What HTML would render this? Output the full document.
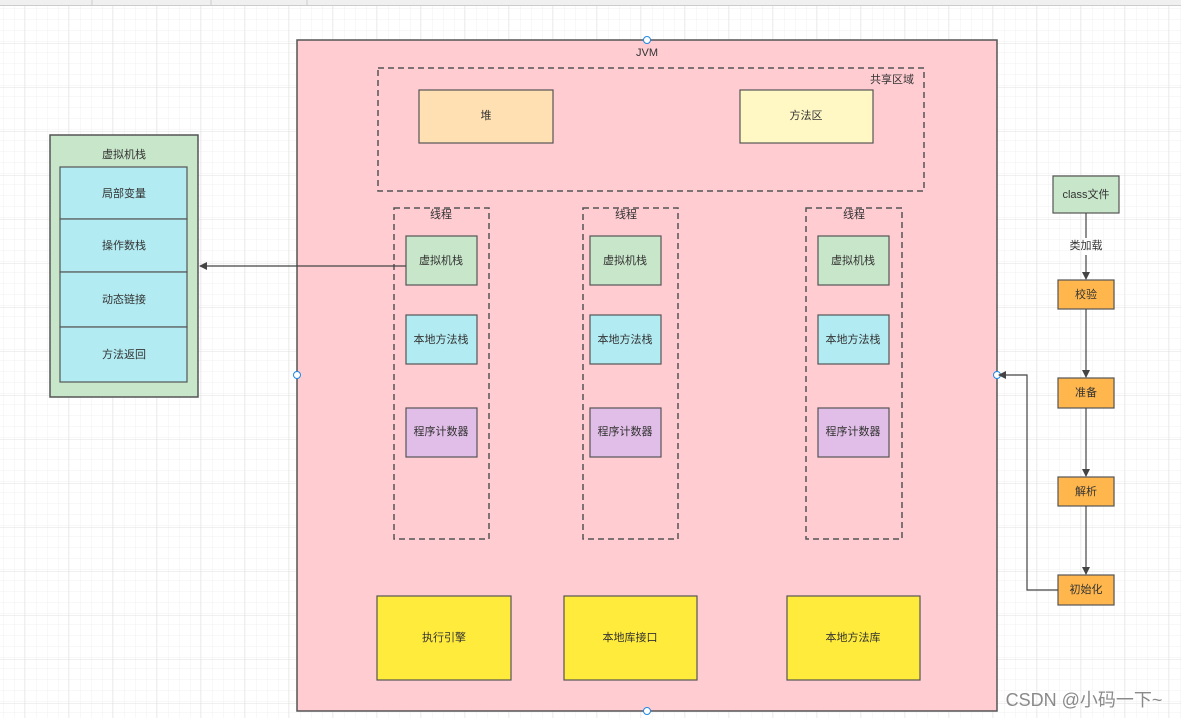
<!DOCTYPE html>
<html><head><meta charset="utf-8"><style>
html,body{margin:0;padding:0;width:1181px;height:718px;overflow:hidden;background:#fff}
svg text{font-family:"Liberation Sans","Noto Sans CJK SC",sans-serif;font-size:11px;fill:#333;text-anchor:middle;dominant-baseline:central}
</style></head><body>
<svg width="1181" height="718" xmlns="http://www.w3.org/2000/svg">
<defs>
<pattern id="minor" width="11" height="11" patternUnits="userSpaceOnUse" x="2" y="-1">
<path d="M11 0V11M0 11H11" fill="none" stroke="#f1f1f1" stroke-width="1"/></pattern>
<pattern id="major" width="44" height="44" patternUnits="userSpaceOnUse" x="24" y="-1">
<rect width="44" height="44" fill="url(#minor)"/>
<path d="M0 0V44M0 0H44" fill="none" stroke="#e2e2e2" stroke-width="1"/></pattern>
<marker id="ar" markerWidth="8" markerHeight="8" refX="7" refY="4" orient="auto" markerUnits="userSpaceOnUse"><path d="M0 0L8 4L0 8Z" fill="#444"/></marker>
</defs>
<rect width="1181" height="718" fill="url(#major)"/>
<rect width="1181" height="5" fill="#f0f0f0"/>
<line x1="0" y1="5.5" x2="1181" y2="5.5" stroke="#ccc"/>
<g stroke="#ccc"><line x1="92" y1="0" x2="92" y2="5"/><line x1="211" y1="0" x2="211" y2="5"/><line x1="307" y1="0" x2="307" y2="5"/></g>
<rect x="297" y="40" width="700" height="671" fill="#ffccd2" stroke="#555" stroke-width="1.5"/>
<text x="647" y="53">JVM</text>
<rect x="378" y="68" width="546" height="123" fill="none" stroke="#555" stroke-width="1.5" stroke-dasharray="6,4"/>
<text x="892" y="80">共享区域</text>
<g stroke="#555" stroke-width="1.2">
<rect x="419" y="90" width="134" height="53" fill="#ffe0b2"/>
<rect x="740" y="90" width="133" height="53" fill="#fff8c4"/>
</g>
<text x="486" y="116">堆</text><text x="806" y="116">方法区</text>
<g fill="none" stroke="#555" stroke-width="1.5" stroke-dasharray="6,4">
<rect x="394" y="208" width="95" height="331"/>
<rect x="583" y="208" width="95" height="331"/>
<rect x="806" y="208" width="96" height="331"/>
</g>
<text x="441" y="215">线程</text><text x="626" y="215">线程</text><text x="854" y="215">线程</text>
<g stroke="#555" stroke-width="1.2">
<rect x="406" y="236" width="71" height="49" fill="#c8e6c9"/>
<rect x="406" y="315" width="71" height="49" fill="#b2ebf2"/>
<rect x="406" y="408" width="71" height="49" fill="#e1bee7"/>
<rect x="590" y="236" width="71" height="49" fill="#c8e6c9"/>
<rect x="590" y="315" width="71" height="49" fill="#b2ebf2"/>
<rect x="590" y="408" width="71" height="49" fill="#e1bee7"/>
<rect x="818" y="236" width="71" height="49" fill="#c8e6c9"/>
<rect x="818" y="315" width="71" height="49" fill="#b2ebf2"/>
<rect x="818" y="408" width="71" height="49" fill="#e1bee7"/>
</g>
<text x="441" y="261">虚拟机栈</text><text x="441" y="340">本地方法栈</text><text x="441" y="432">程序计数器</text>
<text x="625" y="261">虚拟机栈</text><text x="625" y="340">本地方法栈</text><text x="625" y="432">程序计数器</text>
<text x="853" y="261">虚拟机栈</text><text x="853" y="340">本地方法栈</text><text x="853" y="432">程序计数器</text>
<g stroke="#555" stroke-width="1.2" fill="#ffeb3b">
<rect x="377" y="596" width="134" height="84"/>
<rect x="564" y="596" width="133" height="84"/>
<rect x="787" y="596" width="133" height="84"/>
</g>
<text x="444" y="638">执行引擎</text><text x="630" y="638">本地库接口</text><text x="853" y="638">本地方法库</text>
<g fill="#fff" stroke="#1e88e5" stroke-width="1">
<circle cx="647" cy="40" r="3.5"/><circle cx="647" cy="711" r="3.5"/><circle cx="297" cy="375" r="3.5"/><circle cx="997" cy="375" r="3.5"/>
</g>
<rect x="50" y="135" width="148" height="262" fill="#c8e6c9" stroke="#555" stroke-width="1.5"/>
<text x="124" y="155">虚拟机栈</text>
<g stroke="#555" stroke-width="1.2" fill="#b2ebf2">
<rect x="60" y="167" width="127" height="52"/>
<rect x="60" y="219" width="127" height="53"/>
<rect x="60" y="272" width="127" height="55"/>
<rect x="60" y="327" width="127" height="55"/>
</g>
<text x="124" y="194">局部变量</text><text x="124" y="246">操作数栈</text><text x="124" y="300">动态链接</text><text x="124" y="355">方法返回</text>
<line x1="406" y1="266" x2="200" y2="266" stroke="#444" stroke-width="1.2" marker-end="url(#ar)"/>
<g stroke="#555" stroke-width="1.2">
<rect x="1053" y="176" width="66" height="37" fill="#c8e6c9"/>
<rect x="1058" y="280" width="56" height="29" fill="#ffb74d"/>
<rect x="1058" y="378" width="56" height="30" fill="#ffb74d"/>
<rect x="1058" y="477" width="56" height="29" fill="#ffb74d"/>
<rect x="1058" y="575" width="56" height="30" fill="#ffb74d"/>
</g>
<text x="1086" y="195">class文件</text><text x="1086" y="295">校验</text><text x="1086" y="393">准备</text><text x="1086" y="492">解析</text><text x="1086" y="590">初始化</text>
<g stroke="#444" stroke-width="1.2" fill="none">
<line x1="1086" y1="213" x2="1086" y2="238"/>
<line x1="1086" y1="255" x2="1086" y2="279" marker-end="url(#ar)"/>
<line x1="1086" y1="309" x2="1086" y2="377" marker-end="url(#ar)"/>
<line x1="1086" y1="408" x2="1086" y2="476" marker-end="url(#ar)"/>
<line x1="1086" y1="506" x2="1086" y2="574" marker-end="url(#ar)"/>
<polyline points="1058,590 1027,590 1027,375 999,375" marker-end="url(#ar)"/>
</g>
<text x="1086" y="246">类加载</text>
<text x="1084" y="700" style="font-size:18px;fill:#8a8a8a">CSDN @小码一下~</text>
</svg>
</body></html>
